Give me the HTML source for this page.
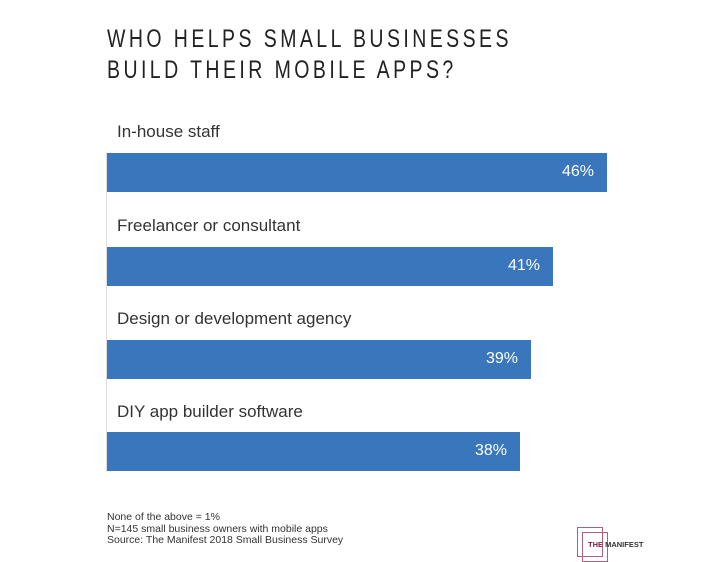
<!DOCTYPE html>
<html><head><style>
body{margin:0;width:722px;height:562px;background:#fff;position:relative;overflow:hidden;font-family:"Liberation Sans",sans-serif}
.t{position:absolute;left:107px;font-size:25px;color:#222;letter-spacing:4.4px;white-space:nowrap;transform-origin:0 0;transform:scaleX(0.78)}
.l{position:absolute;left:117px;font-size:17px;color:#333;white-space:nowrap}
.b{position:absolute;left:107px;height:39px;background:#3a76bc}
.b span{position:absolute;right:13px;top:10px;color:#fff;font-size:16px}
.ax{position:absolute;left:106px;top:152px;width:1px;height:320px;background:#ddd}
.f{position:absolute;left:107px;font-size:10.5px;color:#333;line-height:11.5px;top:512px}
</style></head><body>
<div class="t" style="top:25px">WHO HELPS SMALL BUSINESSES</div>
<div class="t" style="top:56px">BUILD THEIR MOBILE APPS?</div>
<div class="ax"></div>
<div class="l" style="top:122px">In-house staff</div>
<div class="b" style="top:153px;width:500px"><span>46%</span></div>
<div class="l" style="top:216px">Freelancer or consultant</div>
<div class="b" style="top:247px;width:446px"><span>41%</span></div>
<div class="l" style="top:309px">Design or development agency</div>
<div class="b" style="top:340px;width:424px"><span>39%</span></div>
<div class="l" style="top:402px">DIY app builder software</div>
<div class="b" style="top:432px;width:413px"><span>38%</span></div>
<div class="f">None of the above = 1%<br>N=145 small business owners with mobile apps<br>Source: The Manifest 2018 Small Business Survey</div>
<div style="position:absolute;left:577px;top:527px;width:24px;height:28px;border:1px solid #b0607a"></div>
<div style="position:absolute;left:582px;top:532px;width:24px;height:28px;border:1px solid #b0607a"></div>
<div style="position:absolute;left:588px;top:540px;font-size:7.5px;font-weight:bold;white-space:nowrap"><span style="color:#8a2040">THE</span> <span style="color:#333">MANIFEST</span></div>
</body></html>
